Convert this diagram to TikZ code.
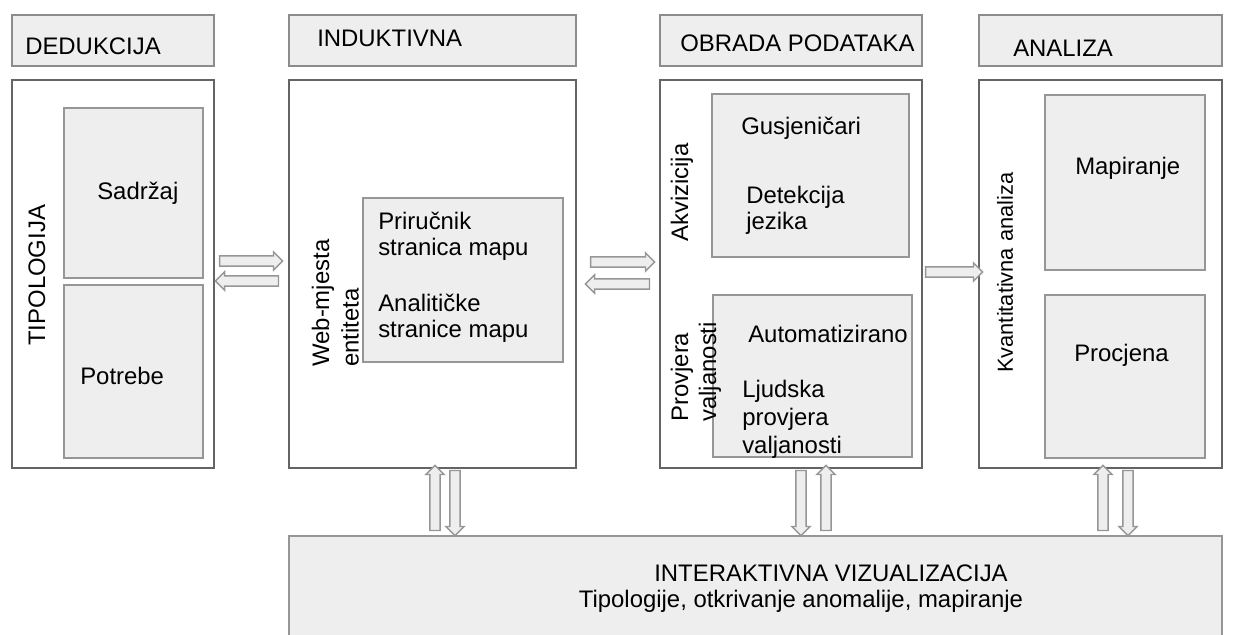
\documentclass[tikz,border=0pt]{standalone}
\usepackage{fontspec}
\setmainfont{Liberation Sans}
\usetikzlibrary{positioning, fit, shapes.arrows}
\definecolor{framegray}{RGB}{100,100,100}
\definecolor{headgray}{RGB}{140,140,140}
\definecolor{boxline}{RGB}{150,150,150}
\definecolor{boxfill}{RGB}{238,238,238}

\tikzset{
	head/.style={draw=headgray, fill=boxfill, line width=1.3pt, inner sep=0pt},
	frame/.style={draw=framegray, fill=white, line width=1.3pt, inner sep=0pt},
	inner/.style={draw=boxline, fill=boxfill, line width=1.1pt, inner sep=0pt},
	txt/.style={font=\fontsize{17}{19}\selectfont, inner sep=0pt, align=left},
	side/.style={txt, rotate=90, anchor=west},
	blockarrow/.style={single arrow, draw=boxline, fill=boxfill, line width=1pt,
		inner sep=0pt, minimum width=0pt, text height=0.11cm, text depth=0.11cm,
		single arrow head extend=0.1cm, single arrow head indent=0pt}
}

\begin{document}
\begin{tikzpicture}[x=0.025cm, y=-0.025cm]
		\useasboundingbox (0,0) rectangle (1236,635);
		
		% headers
		\node[head, fit={(12,15) (214,66)}] (h-ded) {};
		\node[head, fit={(289,15) (576,66)}] (h-ind) {};
		\node[head, fit={(660,15) (922,66)}] (h-obr) {};
		\node[head, fit={(979,15) (1222,66)}] (h-ana) {};
		\node[txt, anchor=base west] (t-ded) at (25,55) {DEDUKCIJA};
		\node[txt, anchor=base west] (t-ind) at (317,47) {INDUKTIVNA};
		\node[txt, anchor=base west] (t-obr) at (680,52) {OBRADA PODATAKA};
		\node[txt, anchor=base west] (t-ana) at (1013,57) {ANALIZA};
		
		% main columns
		\node[frame, fit={(12,80) (214,468)}] (tipologija) {};
		\node[frame, fit={(289,80) (576,468)}] (web) {};
		\node[frame, fit={(660,80) (922,468)}] (obrada) {};
		\node[frame, fit={(979,80) (1222,468)}] (analiza) {};
		\node[inner, fit={(289,536) (1222,640)}] (vizual) {};
		
		% column 1
		\node[inner, fit={(64,108) (203,278)}] (sadrzaj) {};
		\node[inner, fit={(64,285) (203,458)}] (potrebe) {};
		\node[side] (l-tip) at (37,346) {TIPOLOGIJA};
		\node[txt, anchor=base west] (t-sad) at (97,200) {Sadržaj};
		\node[txt, anchor=base west] (t-pot) at (80,385) {Potrebe};
		
		% column 2 (base = last line)
		\node[inner, fit={(363,198) (563,362)}] (prirucnik) {};
		\node[side] (l-web) at (323,367) {Web-mjesta};
		\node[side] (l-ent) at (350,367) {entiteta};
		\node[txt, anchor=base west, font=\fontsize{17}{18.5}\selectfont] (t-pri) at (378,256) {Priručnik\\stranica mapu};
		\node[txt, anchor=base west, font=\fontsize{17}{18.5}\selectfont] (t-anl) at (378,338) {Analitičke\\stranice mapu};
		
		% column 3
		\node[inner, fit={(712,94) (909,257)}] (akviz) {};
		\node[inner, fit={(713,295) (912,457)}] (provj) {};
		\node[side] (l-akv) at (682,242) {Akvizicija};
		\node[side] (l-pro) at (682,422) {Provjera};
		\node[side] (l-val) at (710,422) {valjanosti};
		\node[txt, anchor=base west] (t-gus) at (741,135) {Gusjeničari};
		\node[txt, anchor=base west] (t-det) at (746,230) {Detekcija\\jezika};
		\node[txt, anchor=base west, font=\fontsize{17}{19.6}\selectfont] (t-lju) at (742,453) {Ljudska\\provjera\\valjanosti};
		\node[txt, anchor=base west] (t-aut) at (748,343) {Automatizirano};
		
		% column 4
		\node[inner, fit={(1045,95) (1205,270)}] (mapir) {};
		\node[inner, fit={(1045,295) (1205,458)}] (procj) {};
		\node[side, font=\fontsize{15.5}{18}\selectfont] (l-kva) at (1005,373) {Kvantitativna analiza};
		\node[txt, anchor=base west] (t-map) at (1075,175) {Mapiranje};
		\node[txt, anchor=base west] (t-prc) at (1074,362) {Procjena};
		
		% bottom
		\node[txt, anchor=base] (t-viz) at (831,581) {INTERAKTIVNA VIZUALIZACIJA};
		\node[txt, anchor=base] (t-tip) at (801,607) {Tipologije, otkrivanje anomalije, mapiranje};
		
		% horizontal arrows
		\node[blockarrow, minimum height=1.575cm] (a1r) at (248.5,261) {};
		\node[blockarrow, minimum height=1.575cm, rotate=180] (a1l) at (249.5,281) {};
		\node[blockarrow, minimum height=1.6cm] (a2r) at (620,262) {};
		\node[blockarrow, minimum height=1.6cm, rotate=180] (a2l) at (620,284) {};
		\node[blockarrow, minimum height=1.425cm] (a3r) at (951.5,272) {};
		
		% vertical arrows
		\node[blockarrow, minimum height=1.625cm, rotate=90] (v2u) at (435,500.5) {};
		\node[blockarrow, minimum height=1.625cm, rotate=-90] (v2d) at (455,500.5) {};
		\node[blockarrow, minimum height=1.625cm, rotate=-90] (v3d) at (801,500.5) {};
		\node[blockarrow, minimum height=1.625cm, rotate=90] (v3u) at (826,500.5) {};
		\node[blockarrow, minimum height=1.625cm, rotate=90] (v4u) at (1103,500.5) {};
		\node[blockarrow, minimum height=1.625cm, rotate=-90] (v4d) at (1128,500.5) {};
		
\end{tikzpicture}
\end{document}
